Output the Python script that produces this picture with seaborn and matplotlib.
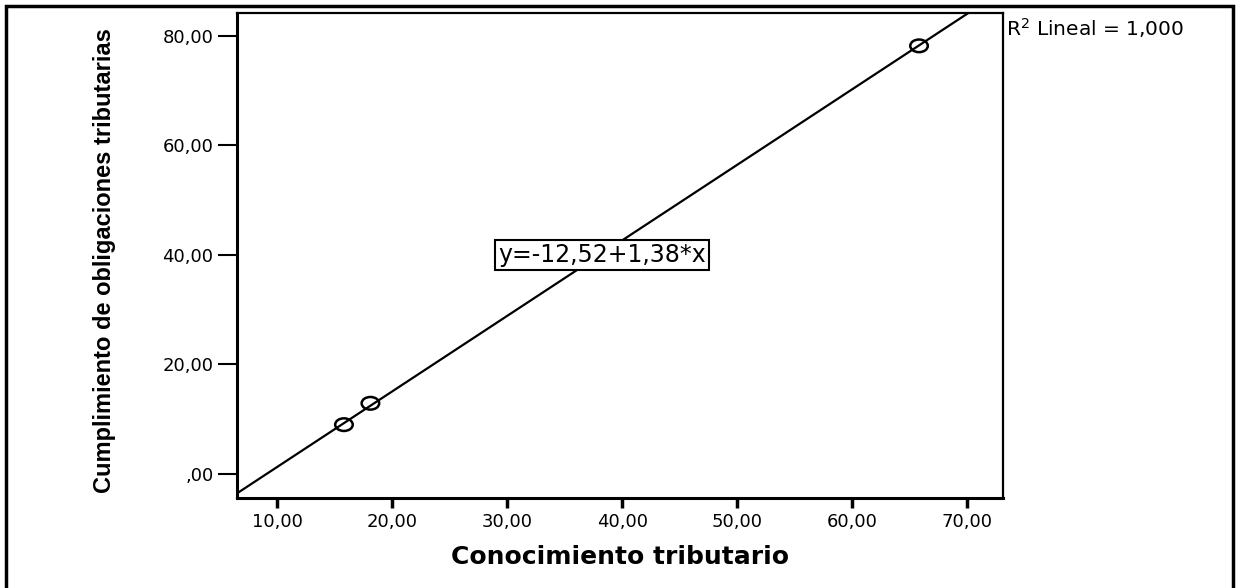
import matplotlib
matplotlib.use("Agg")
import matplotlib.pyplot as plt
import seaborn as sns
import numpy as np
import pandas as pd
from matplotlib.patches import Rectangle
from matplotlib.path import Path
from matplotlib.transforms import Affine2D

# ---- data ----
conocimiento = [15.8, 18.1, 65.8]
cumplimiento = [9.0, 12.9, 78.2]
intercept = -12.52
slope = 1.38
x_ticks = [10, 20, 30, 40, 50, 60, 70]
x_tick_labels = ["10,00", "20,00", "30,00", "40,00", "50,00", "60,00", "70,00"]
y_ticks = [0, 20, 40, 60, 80]
y_tick_labels = [",00", "20,00", "40,00", "60,00", "80,00"]
x_label = "Conocimiento tributario"
y_label = "Cumplimiento de obligaciones tributarias"
equation_text = "y=-12,52+1,38*x"
r2_text = "R$^2$ Lineal = 1,000"

xlim = (6.5, 73.1)
ylim = (-4.4, 84.2)

sns.set_theme(style="white")
plt.rcParams['font.family'] = ['DejaVu Sans']

fig = plt.figure(figsize=(12.36, 5.88), dpi=100)
ax = fig.add_axes([237/1236, 1-498/588, (1003-237)/1236, (498-13)/588])

df = pd.DataFrame({"x": conocimiento, "y": cumplimiento})
line_df = pd.DataFrame({"x": list(xlim)})
line_df["y"] = intercept + slope * line_df["x"]

ellipse = Path.unit_circle().transformed(Affine2D().scale(1.0, 0.72))

sns.lineplot(data=line_df, x="x", y="y", ax=ax, color="black", linewidth=1.6)
sns.scatterplot(data=df, x="x", y="y", ax=ax, marker=ellipse, s=160,
                facecolor="none", edgecolor="black", linewidth=1.8, zorder=3)

ax.set_xlim(*xlim)
ax.set_ylim(*ylim)
ax.set_xticks(x_ticks)
ax.set_xticklabels(x_tick_labels, fontsize=13)
ax.set_yticks(y_ticks)
ax.set_yticklabels(y_tick_labels, fontsize=13)

ax.tick_params(axis="x", direction="out", length=7, width=2.5, pad=4, colors="black", bottom=True)
ax.tick_params(axis="y", direction="out", length=14, width=1.5, pad=3, colors="black", left=True)

for side in ["left", "bottom"]:
    ax.spines[side].set_linewidth(2.2)
    ax.spines[side].set_color("black")
for side in ["top", "right"]:
    ax.spines[side].set_linewidth(1.6)
    ax.spines[side].set_color("black")

ax.set_xlabel(x_label, fontsize=18, fontweight="bold", labelpad=10, color="black")
ax.set_ylabel(y_label, fontsize=17, fontweight="bold", color="black",
              family=["Liberation Sans", "DejaVu Sans"])
ax.yaxis.set_label_coords(-0.158, 0.49)

ax.text(0.4765, 0.501, equation_text, transform=ax.transAxes, fontsize=17,
        ha="center", va="center", color="black",
        bbox=dict(boxstyle="square,pad=0.12", facecolor="white", edgecolor="black", linewidth=1.5))

fig.text(1006/1236, 1-28/588, r2_text, fontsize=14.5, ha="left", va="center", color="black")

fig.patches.append(Rectangle((6/1236, -0.05), (1233-6)/1236, 1.05 - 6/588,
                             transform=fig.transFigure, fill=False,
                             edgecolor="black", linewidth=2.5))

fig.savefig("out.png", dpi=100)
